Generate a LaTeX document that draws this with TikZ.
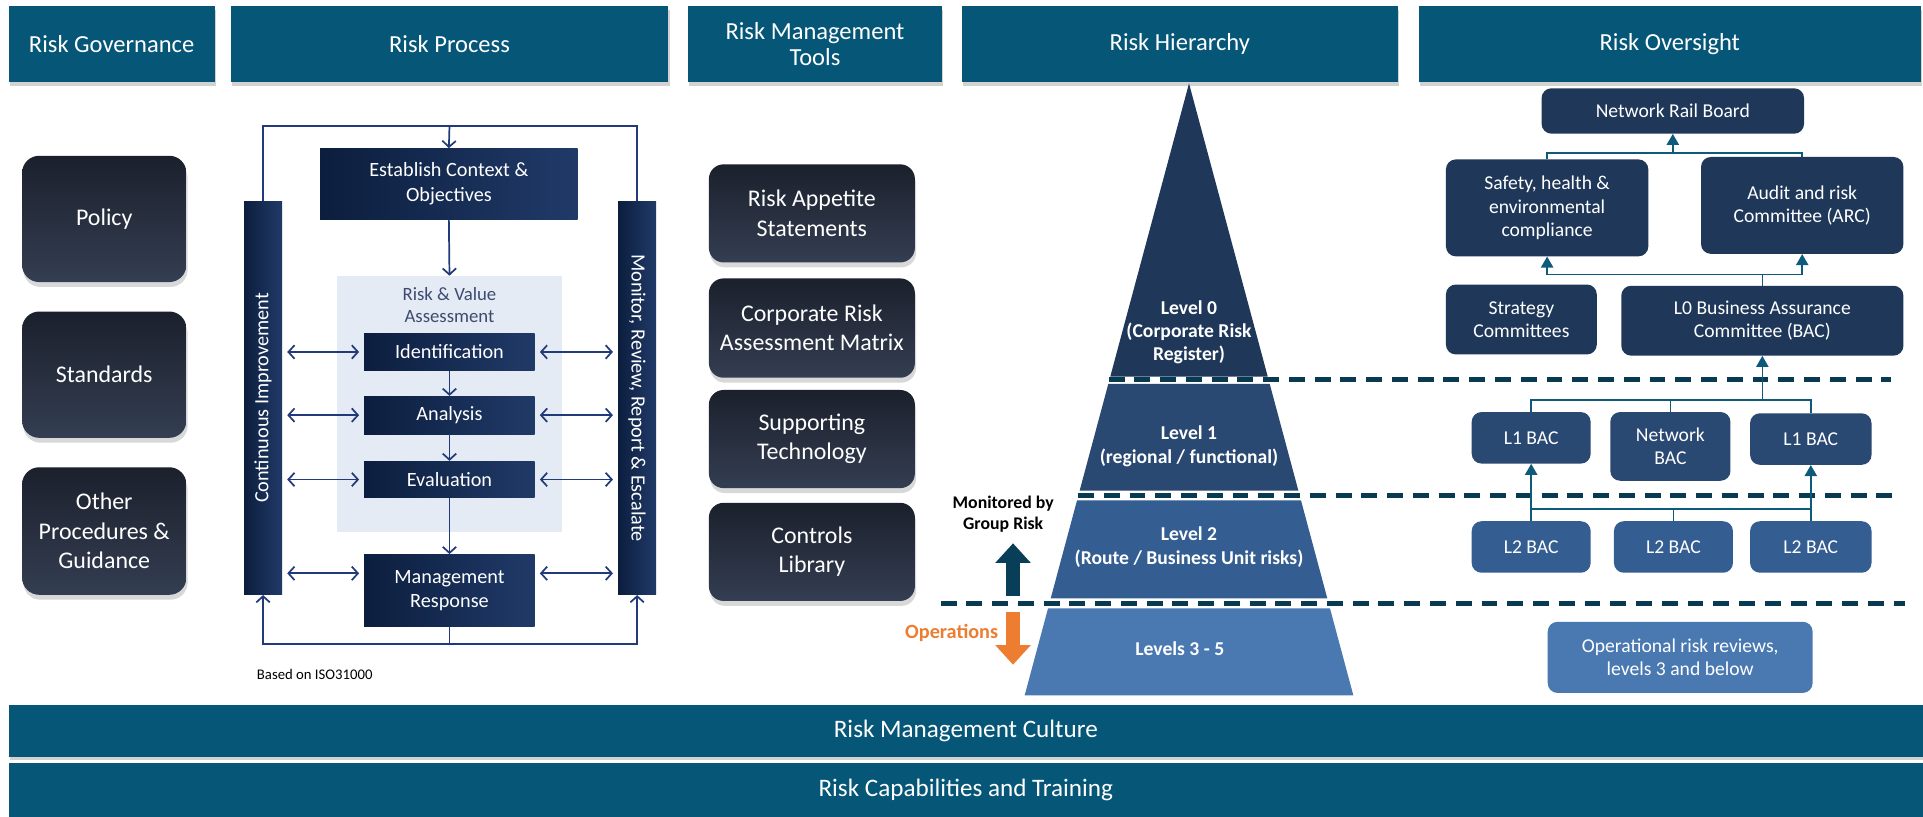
\documentclass[tikz,border=0pt]{standalone}
\usepackage{fontspec}
\setmainfont{Carlito}
\usetikzlibrary{calc,shadows,arrows.meta}

\definecolor{headteal}{RGB}{6,86,120}
\definecolor{govdark}{RGB}{27,32,44}
\definecolor{govlight}{RGB}{52,62,82}
\definecolor{procdark}{RGB}{12,30,62}
\definecolor{proclight}{RGB}{32,58,104}
\definecolor{procline}{RGB}{32,58,122}
\definecolor{assessbg}{RGB}{229,235,245}
\definecolor{assesstxt}{RGB}{60,75,110}
\definecolor{lvlA}{RGB}{31,56,90}
\definecolor{lvlB}{RGB}{41,72,114}
\definecolor{lvlC}{RGB}{52,94,145}
\definecolor{lvlD}{RGB}{74,121,178}
\definecolor{sepline}{RGB}{8,58,82}
\definecolor{ovteal}{RGB}{14,90,122}
\definecolor{opsorange}{RGB}{237,125,49}
\definecolor{grpteal}{RGB}{9,62,88}

\tikzset{
	head/.style={fill=headteal,text=white,font=\fontsize{20}{21}\selectfont,align=center,inner sep=0pt,drop shadow={shadow xshift=1pt,shadow yshift=-3pt,opacity=0.35}},
	band/.style={head,font=\fontsize{20.5}{22}\selectfont},
	govbox/.style={rounded corners=14pt,top color=govdark,bottom color=govlight,text=white,font=\fontsize{19.5}{24}\selectfont,align=center,inner sep=0pt,drop shadow={shadow xshift=1pt,shadow yshift=-4pt,opacity=0.3}},
	procbox/.style={left color=procdark,right color=proclight,text=white,font=\fontsize{16.5}{20}\selectfont,align=center,inner sep=0pt},
	proctext/.style={text=white,font=\fontsize{16.5}{20}\selectfont},
	loopline/.style={draw=procline,line width=1.4pt},
	procarr/.style={loopline,-{Straight Barb[length=5pt,width=11pt]}},
	dblarr/.style={loopline,{Straight Barb[length=5pt,width=11pt]}-{Straight Barb[length=5pt,width=11pt]},shorten <=4pt,shorten >=4pt},
	tiertext/.style={text=white,font=\bfseries\fontsize{16}{19}\selectfont,align=center},
	sepdash/.style={draw=sepline,line width=3.5pt,dash pattern=on 13pt off 8pt},
	grparr/.style={line width=12pt,-{Triangle[length=16pt,width=28pt]}},
	ovbox/.style={rounded corners=8pt,fill=lvlA,text=white,font=\fontsize{16}{19}\selectfont,align=center,inner sep=0pt},
	ovline/.style={draw=ovteal,line width=1.3pt},
	ovarr/.style={ovline,-{Triangle[length=9pt,width=10pt]}}
}

\newcommand{\makehead}[4]{
	\node (#1) at ({(#2+#3)/2},36) [head,minimum width={(#3-#2)*1pt},minimum height=62pt] {#4};
}
\newcommand{\makeblock}[7]{
	\node (#1) at ({(#2+#3)/2},{(#4+#5)/2}) [#6,minimum width={(#3-#2)*1pt},minimum height={(#5-#4)*1pt}] {#7};
}
\newcommand{\maketier}[3]{
	\fill[#3] ({969.5-0.26854*(#1-68)},#1) -- ({969.5+0.26854*(#1-68)},#1) -- ({969.5+0.26854*(#2-68)},#2) -- ({969.5-0.26854*(#2-68)},#2) -- cycle;
}

\begin{document}
\begin{tikzpicture}[x=1pt,y=-1pt]
	\useasboundingbox[fill=white] (0,0) rectangle (1568,666);

	\makehead{hgov}{7}{175}{Risk Governance}
	\makehead{hproc}{188}{545}{Risk Process}
	\makehead{htools}{561}{768}{Risk Management\\Tools}
	\makehead{hhier}{784}{1140}{Risk Hierarchy}
	\makehead{hover}{1157}{1566}{Risk Oversight}

	\makeblock{policy}{18}{152}{127}{230}{govbox}{Policy}
	\makeblock{standards}{18}{152}{254}{357}{govbox}{Standards}
	\makeblock{otherproc}{18}{152}{381}{485}{govbox}{Other\\Procedures \&\\Guidance}

	\makeblock{assess}{275}{458}{225}{434}{fill=assessbg}{}
		\node (assesslbl) at (366.5,249) [font=\fontsize{15.3}{18}\selectfont,text=assesstxt,align=center] {Risk \& Value\\Assessment};
	\makeblock{context}{261}{471}{121}{179}{procbox}{Establish Context \&\\Objectives}
	\makeblock{ident}{297}{436}{272}{302}{procbox}{Identification}
	\makeblock{analysis}{297}{436}{323}{354}{procbox}{Analysis}
	\makeblock{evaluation}{297}{436}{376}{406}{procbox}{Evaluation}
	\makeblock{mgmt}{297}{436}{452}{511}{procbox}{Management\\Response}
	\makeblock{contimp}{199}{230}{164}{485}{procbox}{}
	\makeblock{monitor}{504}{535}{164}{485}{procbox}{}
		\node (contimptxt) at (contimp.center) [proctext,rotate=90] {Continuous Improvement};
		\node (monitortxt) at (monitor.center) [proctext,rotate=-90] {Monitor, Review, Report \& Escalate};

	\coordinate (looptop) at (366.5,103);
	\coordinate (loopbot) at (366.5,525);
	\coordinate (mgmtlink) at ($(mgmt.center)+(0,-14)$);
	\draw[loopline] (contimp.north) |- (looptop) -| (monitor.north);
	\draw[procarr] (looptop) -- (context.north);
	\draw[procarr] (context.south) -- (assess.north);
	\draw[procarr] (ident) -- (analysis);
	\draw[procarr] (analysis) -- (evaluation);
	\draw[procarr] (evaluation) -- (mgmt);
	\draw[loopline] (mgmt.south) -- (loopbot);
	\draw[procarr] (loopbot) -| (contimp.south);
	\draw[procarr] (loopbot) -| (monitor.south);
	\draw[dblarr] (contimp.east |- ident.west) -- (ident.west);
	\draw[dblarr] (ident.east) -- (monitor.west |- ident.east);
	\draw[dblarr] (contimp.east |- analysis.west) -- (analysis.west);
	\draw[dblarr] (analysis.east) -- (monitor.west |- analysis.east);
	\draw[dblarr] (contimp.east |- evaluation.west) -- (evaluation.west);
	\draw[dblarr] (evaluation.east) -- (monitor.west |- evaluation.east);
	\draw[dblarr] (contimp.east |- mgmtlink) -- (mgmt.west |- mgmtlink);
	\draw[dblarr] (mgmt.east |- mgmtlink) -- (monitor.west |- mgmtlink);
	\node (isonote) at (206,550) [anchor=west,font=\fontsize{12}{14}\selectfont] {Based on ISO31000};

	\makeblock{appetite}{578}{746}{134}{214}{govbox,rounded corners=12pt}{Risk Appetite\\Statements}
	\makeblock{matrix}{578}{746}{227}{308}{govbox,rounded corners=12pt}{Corporate Risk\\Assessment Matrix}
	\makeblock{techno}{578}{746}{318}{398}{govbox,rounded corners=12pt}{Supporting\\Technology}
	\makeblock{controls}{578}{746}{410}{490}{govbox,rounded corners=12pt}{Controls\\Library}

	\maketier{68}{307}{lvlA}
	\maketier{313}{400}{lvlB}
	\maketier{408}{488}{lvlC}
	\maketier{496}{567}{lvlD}
		\node (tierzero) at (969.5,271) [tiertext] {Level 0\\(Corporate Risk\\Register)};
		\node (tierone) at (969.5,364) [tiertext] {Level 1\\(regional / functional)};
		\node (tiertwo) at (969.5,446) [tiertext] {Level 2\\(Route / Business Unit risks)};
		\node (tierops) at (962,529) [tiertext] {Levels 3 - 5};

	\coordinate (sepA) at (904,309.5);
	\coordinate (sepAend) at (1542,309.5);
	\coordinate (sepB) at (879,404);
	\coordinate (sepBend) at (1543,404);
	\coordinate (sepC) at (767,492);
	\coordinate (sepCend) at (1553,492);
	\draw[sepdash] (sepA) -- (sepAend);
	\draw[sepdash] (sepB) -- (sepBend);
	\draw[sepdash] (sepC) -- (sepCend);

	\node (grprisk) at (818,419.5) [font=\bfseries\fontsize{14.5}{17}\selectfont,align=center] {Monitored by\\Group Risk};
	\node (ops) at (776,516) [font=\bfseries\fontsize{16.5}{19}\selectfont,text=opsorange] {Operations};
	\coordinate (grpfoot) at (826,486);
	\coordinate (grptip) at (826,443);
	\coordinate (opstop) at (826,499);
	\coordinate (opstip) at (826,542);
	\draw[grparr,draw=grpteal,fill=grpteal] (grpfoot) -- (grptip);
	\draw[grparr,draw=opsorange,fill=opsorange] (opstop) -- (opstip);

	\makeblock{board}{1257}{1471}{72}{109}{ovbox}{Network Rail Board}
	\makeblock{safety}{1179}{1344}{130}{209}{ovbox}{Safety, health \&\\environmental\\compliance}
	\makeblock{audit}{1387}{1552}{128}{207}{ovbox}{Audit and risk\\Committee (ARC)}
	\makeblock{strategy}{1179}{1302}{232}{289}{ovbox}{Strategy\\Committees}
	\makeblock{lzero}{1322}{1552}{233}{290}{ovbox}{L0 Business Assurance\\Committee (BAC)}
	\makeblock{lonea}{1200}{1297}{336}{378}{ovbox,fill=lvlB}{L1 BAC}
	\makeblock{netbac}{1313}{1411}{336}{392}{ovbox,fill=lvlB}{Network\\BAC}
	\makeblock{loneb}{1427}{1526}{337}{379}{ovbox,fill=lvlB}{L1 BAC}
	\makeblock{ltwoa}{1200}{1297}{425}{467}{ovbox,fill=lvlC}{L2 BAC}
	\makeblock{ltwob}{1316}{1413}{425}{467}{ovbox,fill=lvlC}{L2 BAC}
	\makeblock{ltwoc}{1427}{1526}{425}{467}{ovbox,fill=lvlC}{L2 BAC}
	\makeblock{opreview}{1262}{1478}{507}{565}{ovbox,fill=lvlD}{Operational risk reviews,\\levels 3 and below}

	\coordinate (boardjoin) at ($(board.south)+(0,15.5)$);
	\coordinate (lzerojoin) at ($(lzero.north)+(0,-9)$);
	\coordinate (lonejoin) at ($(lzero.south)+(0,36)$);
	\coordinate (ltwojoin) at ($(ltwob.north)+(0,-10)$);
	\draw[ovline] (safety.north) |- (boardjoin) -| (audit.north);
	\draw[ovarr] (boardjoin) -- (board.south);
	\draw[ovline] (lzero.north) -- (lzerojoin);
	\draw[ovarr] (lzerojoin) -| (safety.south);
	\draw[ovarr] (lzerojoin) -| (audit.south);
	\draw[ovarr] (lonejoin) -- (lzero.south);
	\draw[ovline] (lonea.north) |- (lonejoin) -| (loneb.north);
	\draw[ovline] (netbac.north) -- (netbac.north |- lonejoin);
	\draw[ovline] (ltwob.north) -- (ltwojoin);
	\draw[ovline] (ltwoa.north |- ltwojoin) -- (ltwoc.north |- ltwojoin);
	\draw[ovarr] (ltwoa.north) -- (lonea.south);
	\draw[ovarr] (ltwoc.north) -- (loneb.south);

	\makeblock{culture}{7}{1568}{575}{617}{band}{Risk Management Culture}
	\makeblock{training}{7}{1568}{622}{666}{band}{Risk Capabilities and Training}
\end{tikzpicture}
\end{document}
